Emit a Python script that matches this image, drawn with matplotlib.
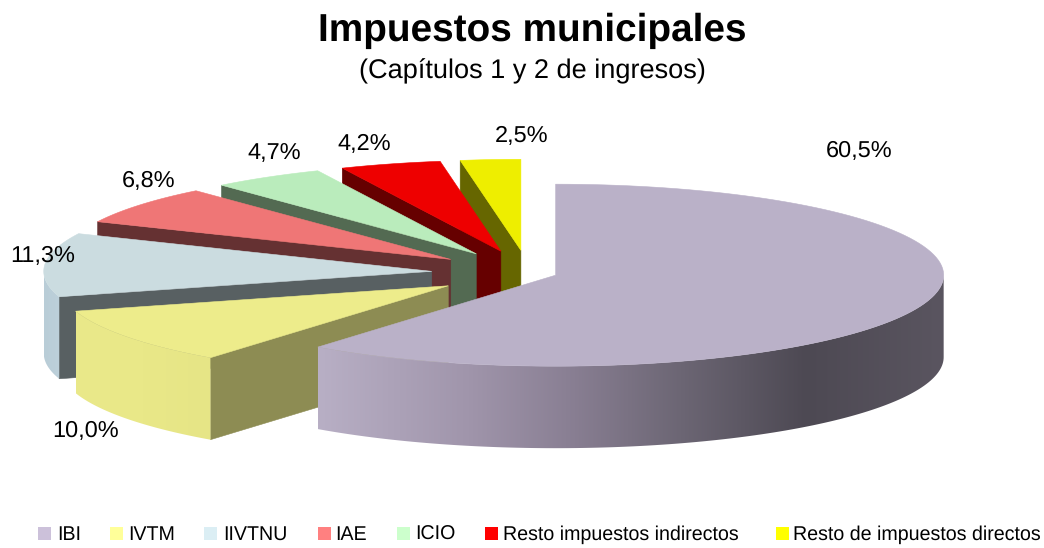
import numpy as np
import matplotlib
matplotlib.use("Agg")
import matplotlib.pyplot as plt
from matplotlib.colors import LinearSegmentedColormap
from matplotlib.patches import Polygon, Rectangle

plt.rcParams["font.family"] = ["Liberation Sans", "DejaVu Sans"]
plt.rcParams["text.hinting"] = "no_hinting"

# data
categories = ["IBI", "IVTM", "IIVTNU", "IAE", "ICIO",
              "Resto impuestos indirectos", "Resto de impuestos directos"]
values = [60.5, 10.0, 11.3, 6.8, 4.7, 4.2, 2.5]
value_labels = ["60,5%", "10,0%", "11,3%", "6,8%", "4,7%", "4,2%", "2,5%"]

# style
top_colors = ["#BAB1C8", "#EDEC8B", "#CBDCE0", "#EF7676", "#BAECBC", "#EE0000", "#EEEE00"]
face_colors = ["#5A5560", "#8D8C53", "#586062", "#653132", "#536A52", "#660000", "#666600"]
legend_colors = ["#CCC1DA", "#FFFF99", "#DBEEF4", "#FF8080", "#CCFFCC", "#FF0000", "#FFFF00"]
explode = [0.074, 0.25, 0.25, 0.25, 0.25, 0.25, 0.25]

# pie geometry, in pixels
CX, CY = 528.5, 273
RX, RY = 388, 91
DEPTH = 82

label_pos = [(859, 151), (86, 431), (43, 256), (149, 181), (274, 153), (364, 144), (522, 136)]
legend_box_x = [38, 110, 204, 318, 397, 485, 776]
legend_text_x = [57, 128, 223, 335, 415, 503, 793]

# outer wall gradients: (share of the wall width, colour)
wall_stops = {
    0: [(0.0, "#B8AFC5"), (0.24, "#A095AB"), (0.41, "#887E92"), (0.58, "#6C6674"),
        (0.78, "#4D4953"), (1.0, "#5A5560")],
    1: [(0.0, "#EAE98A"), (0.5, "#E9E888"), (1.0, "#E6E586")],
    2: [(0.0, "#B9CDD7"), (1.0, "#BDD0DA")],
}


def rim(t0, t1, ax0, ay0):
    t = np.radians(np.linspace(t0, t1, 120))
    return ax0 + RX * np.sin(t), ay0 - RY * np.cos(t)


fig = plt.figure(figsize=(10.44, 5.48), dpi=100, facecolor="white")
ax = fig.add_axes([0, 0, 1, 1])
ax.set_axis_off()

total = sum(values)
edges = np.concatenate([[0], np.cumsum(values)]) / total * 360

# painted from the back slice to the front one
for i in range(len(values) - 1, -1, -1):
    t0, t1 = edges[i], edges[i + 1]
    mid = np.radians((t0 + t1) / 2)
    ax0 = CX + explode[i] * RX * np.sin(mid)
    ay0 = CY - explode[i] * RY * np.cos(mid)
    xs, ys = rim(t0, t1, ax0, ay0)

    # cut face on the start edge, not visible for the big slice
    if i > 0:
        face = [(xs[0], ys[0]), (ax0, ay0), (ax0, ay0 + DEPTH), (xs[0], ys[0] + DEPTH)]
        ax.add_patch(Polygon(face, closed=True, fc=face_colors[i], ec=face_colors[i], lw=0.4, zorder=i * -3 + 20))

    # outer wall, only the part that faces the viewer
    lo, hi = max(t0, 90), min(t1, 270)
    if lo < hi and i in wall_stops:
        wx, wy = rim(lo, hi, ax0, ay0)
        wall = np.vstack([np.column_stack([wx, wy]),
                          np.column_stack([wx[::-1], wy[::-1] + DEPTH])])
        clip = Polygon(wall, closed=True, fc="none", ec="none", transform=ax.transData)
        ax.add_patch(clip)
        cmap = LinearSegmentedColormap.from_list("wall", wall_stops[i])
        im = ax.imshow(np.linspace(0, 1, 256)[None, :], cmap=cmap, aspect="auto",
                       extent=[wx.min(), wx.max(), wy.max() + DEPTH + 2, wy.min() - 2],
                       zorder=i * -3 + 21, interpolation="bilinear")
        im.set_clip_path(clip)

    top = np.vstack([[ax0, ay0], np.column_stack([xs, ys])])
    ax.add_patch(Polygon(top, closed=True, fc=top_colors[i], ec=top_colors[i], lw=0.4, zorder=i * -3 + 22))

for lab, (lx, ly) in zip(value_labels, label_pos):
    ax.text(lx, ly, lab, ha="center", va="center", fontsize=16.9, color="black", zorder=40)

ax.text(532, 31, "Impuestos municipales", ha="center", va="center",
        fontsize=27.9, fontweight="bold", color="black")
ax.text(532, 71, "(Capítulos 1 y 2 de ingresos)", ha="center", va="center",
        fontsize=19.5, color="black")

# legend, spaced by hand like the original
for name, c, bx, tx in zip(categories, legend_colors, legend_box_x, legend_text_x):
    ax.add_patch(Rectangle((bx, 527), 13, 13, fc=c, ec="none"))
    ax.text(tx, 540, name, ha="left", va="baseline", fontsize=14.1, color="black")

ax.set_xlim(0, 1044)
ax.set_ylim(548, 0)
fig.savefig("out.png", dpi=100, facecolor="white")
